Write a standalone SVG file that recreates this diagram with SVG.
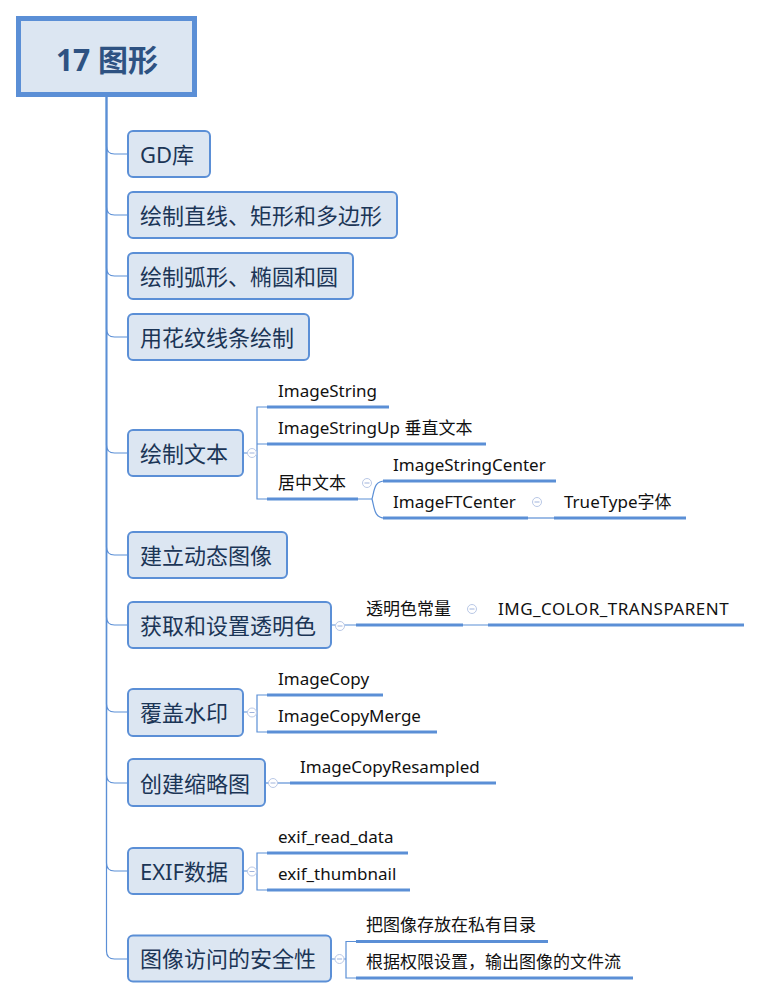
<svg xmlns="http://www.w3.org/2000/svg" width="761" height="1000" viewBox="0 0 761 1000">
<style>
.bg{fill:#ffffff}
.node rect{fill:#dce6f2;stroke:#5b8fd6;stroke-width:2}
.node text{font-family:"Noto Sans","Noto Sans CJK SC",sans-serif;font-size:22px;fill:#1b3556}
.root rect{fill:#dce6f2;stroke:#5b8fd6;stroke-width:5}
.root text{font-family:"Noto Sans","Noto Sans CJK SC",sans-serif;font-size:30px;font-weight:bold;fill:#2e5282}
.conn path{fill:none;stroke:#5b8fd6;stroke-width:1.2}
.ul{stroke:#5b8fd6;stroke-width:3;fill:none}
.sub text{font-family:"Noto Sans","Noto Sans CJK SC",sans-serif;font-size:17px;fill:#111111}
.col circle{fill:#ffffff;stroke:#b9c8e6;stroke-width:1}
.col path{stroke:#9fb3dc;stroke-width:1;fill:none}
</style>
<rect class="bg" x="0" y="0" width="761" height="1000"/>

<g id="connectors" class="conn">
<path d="M106.5,97 V146 Q106.5,154 114.5,154 H128"/>
<path d="M106.5,97 V207 Q106.5,215 114.5,215 H128"/>
<path d="M106.5,97 V268 Q106.5,276 114.5,276 H128"/>
<path d="M106.5,97 V329 Q106.5,337 114.5,337 H128"/>
<path d="M106.5,97 V445 Q106.5,453 114.5,453 H128"/>
<path d="M106.5,97 V547 Q106.5,555 114.5,555 H128"/>
<path d="M106.5,97 V617 Q106.5,625 114.5,625 H128"/>
<path d="M106.5,97 V704 Q106.5,712 114.5,712 H128"/>
<path d="M106.5,97 V775 Q106.5,783 114.5,783 H128"/>
<path d="M106.5,97 V863 Q106.5,871 114.5,871 H128"/>
<path d="M106.5,97 V951 Q106.5,959 114.5,959 H128"/>
<path d="M244,453 H257 M267,407 H257 V499 H267 M257,444 H267"/>
<path d="M358,499 H372 M372,499 C374.5,490 374,481 385,481 M372,499 C374.5,508 374,518 385,518"/>
<path d="M528,518 H554"/>
<path d="M332,625 H356 M463,625 H488"/>
<path d="M244,712 H257 M267,695 H257 V732 H267"/>
<path d="M266,783 H290"/>
<path d="M244,871 H257 M267,853 H257 V890 H267"/>
<path d="M332,959 H346 M356,941.5 H346 V978 H356"/>
</g>

<g id="root" class="root">
<rect x="18.5" y="18.5" width="176" height="76"/>
<text x="107" y="70.5" text-anchor="middle">17 图形</text>
</g>

<g id="n-gd" class="node"><rect x="128" y="131" width="82" height="46" rx="5"/><text x="140" y="162.5">GD库</text></g>
<g id="n-line" class="node"><rect x="128" y="192" width="269" height="46" rx="5"/><text x="140" y="223.5">绘制直线、矩形和多边形</text></g>
<g id="n-arc" class="node"><rect x="128" y="253" width="225" height="46" rx="5"/><text x="140" y="284.5">绘制弧形、椭圆和圆</text></g>
<g id="n-pattern" class="node"><rect x="128" y="314" width="181" height="46" rx="5"/><text x="140" y="345.5">用花纹线条绘制</text></g>
<g id="n-text" class="node"><rect x="128" y="430" width="115" height="46" rx="5"/><text x="140" y="461.5">绘制文本</text></g>
<g id="n-dyn" class="node"><rect x="128" y="532" width="159" height="46" rx="5"/><text x="140" y="563.5">建立动态图像</text></g>
<g id="n-trans" class="node"><rect x="128" y="602" width="203" height="46" rx="5"/><text x="140" y="633.5">获取和设置透明色</text></g>
<g id="n-water" class="node"><rect x="128" y="689" width="115" height="47" rx="5"/><text x="140" y="721">覆盖水印</text></g>
<g id="n-thumb" class="node"><rect x="128" y="759" width="137" height="47" rx="5"/><text x="140" y="791.5">创建缩略图</text></g>
<g id="n-exif" class="node"><rect x="128" y="848" width="115" height="46" rx="5"/><text x="140" y="879.5">EXIF数据</text></g>
<g id="n-sec" class="node"><rect x="128" y="935.5" width="203" height="46" rx="5"/><text x="140" y="967">图像访问的安全性</text></g>

<g id="s-imagestring" class="sub"><path class="ul" d="M267,407 H389"/><text x="278" y="396.5">ImageString</text></g>
<g id="s-imagestringup" class="sub"><path class="ul" d="M267,444 H486"/><text x="278" y="433.5">ImageStringUp 垂直文本</text></g>
<g id="s-center" class="sub"><path class="ul" d="M267,499 H358"/><text x="278" y="488.5">居中文本</text></g>
<g id="s-isc" class="sub"><path class="ul" d="M383,481 H556"/><text x="393" y="470.5">ImageStringCenter</text></g>
<g id="s-iftc" class="sub"><path class="ul" d="M383,518 H528"/><text x="393" y="507.5">ImageFTCenter</text></g>
<g id="s-tt" class="sub"><path class="ul" d="M554,518 H686"/><text x="564" y="507.5">TrueType字体</text></g>
<g id="s-tconst" class="sub"><path class="ul" d="M356,625 H463"/><text x="366" y="614.5">透明色常量</text></g>
<g id="s-imgct" class="sub"><path class="ul" d="M488,625 H744"/><text x="498" y="614.5" letter-spacing="0.5">IMG_COLOR_TRANSPARENT</text></g>
<g id="s-copy" class="sub"><path class="ul" d="M267,695 H383"/><text x="278" y="684.5">ImageCopy</text></g>
<g id="s-copymerge" class="sub"><path class="ul" d="M267,732 H437"/><text x="278" y="721.5">ImageCopyMerge</text></g>
<g id="s-resampled" class="sub"><path class="ul" d="M290,783 H496"/><text x="300" y="772.5">ImageCopyResampled</text></g>
<g id="s-exifread" class="sub"><path class="ul" d="M267,853 H408"/><text x="278" y="842.5">exif_read_data</text></g>
<g id="s-exifthumb" class="sub"><path class="ul" d="M267,890 H410"/><text x="278" y="879.5">exif_thumbnail</text></g>
<g id="s-private" class="sub"><path class="ul" d="M356,941.5 H548"/><text x="366" y="931">把图像存放在私有目录</text></g>
<g id="s-stream" class="sub"><path class="ul" d="M356,978 H633"/><text x="366" y="967.5">根据权限设置，输出图像的文件流</text></g>

<g id="collapse" class="col">
<circle cx="252" cy="453" r="4.5"/><path d="M249.5,453 H254.5"/>
<circle cx="367" cy="483" r="4.5"/><path d="M364.5,483 H369.5"/>
<circle cx="537" cy="502" r="4.5"/><path d="M534.5,502 H539.5"/>
<circle cx="340" cy="626" r="4.5"/><path d="M337.5,626 H342.5"/>
<circle cx="472" cy="609" r="4.5"/><path d="M469.5,609 H474.5"/>
<circle cx="252" cy="712.5" r="4.5"/><path d="M249.5,712.5 H254.5"/>
<circle cx="273" cy="783" r="4.5"/><path d="M270.5,783 H275.5"/>
<circle cx="252" cy="871.5" r="4.5"/><path d="M249.5,871.5 H254.5"/>
<circle cx="339.5" cy="959" r="4.5"/><path d="M337,959 H342"/>
</g>
</svg>
